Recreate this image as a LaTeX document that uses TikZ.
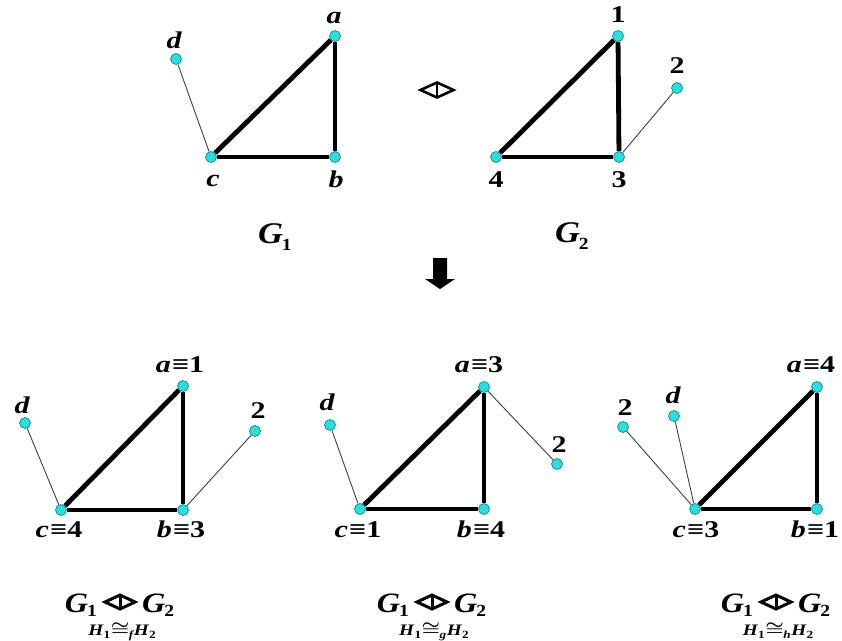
\documentclass[tikz,border=0pt]{standalone}
\usepackage{graphicx}
\usepackage{fontspec}
\setmainfont{Liberation Serif}
\definecolor{vfill}{RGB}{40,222,222}
\definecolor{vdraw}{RGB}{0,130,140}
\newcommand\hs[1]{\scalebox{1.25}[1]{#1}}
\newcommand\lbf{\fontsize{24}{24}\selectfont\bfseries}
\newcommand\GG[3]{\scalebox{1.15}[1]{{\fontsize{#3}{#3}\selectfont\bfseries\itshape G}\kern-1pt\raisebox{-#2pt}{\fontsize{17}{17}\selectfont\bfseries #1}}}
\newcommand\Hline[1]{\scalebox{1.2}[1]{\fontsize{16}{16}\selectfont\bfseries\itshape H\kern0.3pt\raisebox{-3pt}{\fontsize{11}{11}\selectfont\upshape 1}\kern0.5pt{\boldmath$\cong$}\kern-0.5pt\raisebox{-3.5pt}{\fontsize{11}{11}\selectfont #1}\kern0.5pt H\kern0.3pt\raisebox{-3pt}{\fontsize{11}{11}\selectfont\upshape 2}}}
\tikzset{
  vtx/.style={circle,minimum size=11pt,inner sep=0pt,fill=vfill,draw=vdraw,line width=0.6pt},
  thk/.style={line width=4.8pt,black},
  thn/.style={line width=0.9pt,black!75},
  lbl/.style={inner sep=0pt,anchor=base,font=\lbf},
  glbl/.style={inner sep=0pt},
  dsym/.style={line width=2.6pt,black,line join=miter}
}
\begin{document}
\begin{tikzpicture}[x=1pt,y=-1pt]
\fill[white] (0,0) rectangle (842,640);
\useasboundingbox (0,0) rectangle (842,640);

% ---------- top G1 ----------
\node[vtx] (ta) at (335,36) {};
\node[vtx] (tb) at (335,157) {};
\node[vtx] (tc) at (211,157) {};
\node[vtx] (td) at (176,59) {};
\draw[thn] (td) -- (tc);
\draw[thk] (tc) -- (ta);
\draw[thk] (ta) -- (tb);
\draw[thk] (tc) -- (tb);
\node[lbl] (lta) at (334,23) {\hs{\itshape a}};
\node[lbl] (ltd) at (174,48) {\hs{\itshape d}};
\node[lbl] (ltc) at (213,186) {\hs{\itshape c}};
\node[lbl] (ltb) at (336,187) {\hs{\itshape b}};
\node[glbl,anchor=base west] (G1top) at (258,243) {\GG{1}{7}{30}};

% symbol top
\coordinate (s0) at (437,90);
\draw[dsym] ([xshift=-16.5pt]s0) -- ([yshift=-7.5pt]s0) -- ([xshift=16.5pt]s0) -- ([yshift=7.5pt]s0) -- cycle;
\draw[dsym] ([yshift=-7.5pt]s0) -- ([yshift=7.5pt]s0);

% ---------- top G2 ----------
\node[vtx] (t1) at (618,36) {};
\node[vtx] (t3) at (619,157) {};
\node[vtx] (t4) at (496,157) {};
\node[vtx] (t2) at (677,88) {};
\draw[thn] (t3) -- (t2);
\draw[thk] (t4) -- (t1);
\draw[thk] (t1) -- (t3);
\draw[thk] (t4) -- (t3);
\node[lbl] (lt1) at (618,22) {\hs{1}};
\node[lbl] (lt2) at (677,73) {\hs{2}};
\node[lbl] (lt4) at (496,187) {\hs{4}};
\node[lbl] (lt3) at (619,187) {\hs{3}};
\node[glbl,anchor=base west] (G2top) at (555,242) {\GG{2}{7}{30}};

% arrow
\fill[black] (433,258) -- (447,258) -- (447,279) -- (455,279) -- (440,289) -- (425,279) -- (433,279) -- cycle;

% ---------- bottom left ----------
\node[vtx] (la) at (183,386) {};
\node[vtx] (lb) at (183,510) {};
\node[vtx] (lc) at (61,510) {};
\node[vtx] (ld) at (25,423) {};
\node[vtx] (l2) at (255,431) {};
\draw[thn] (ld) -- (lc);
\draw[thn] (lb) -- (l2);
\draw[thk] (lc) -- (la);
\draw[thk] (la) -- (lb);
\draw[thk] (lc) -- (lb);
\node[lbl] (lla) at (180,372) {\hs{\itshape a\kern1pt≡\upshape 1}};
\node[lbl] (lld) at (22,413) {\hs{\itshape d}};
\node[lbl] (ll2) at (258,418) {\hs{2}};
\node[lbl] (llc) at (59,537) {\hs{\itshape c\kern1pt≡\upshape 4}};
\node[lbl] (llb) at (181,537) {\hs{\itshape b\kern1pt≡\upshape 3}};

% ---------- bottom middle ----------
\node[vtx] (ma) at (484,387) {};
\node[vtx] (mb) at (484,509) {};
\node[vtx] (mc) at (360,509) {};
\node[vtx] (md) at (330,425) {};
\node[vtx] (m2) at (557,464) {};
\draw[thn] (md) -- (mc);
\draw[thn] (ma) -- (m2);
\draw[thk] (mc) -- (ma);
\draw[thk] (ma) -- (mb);
\draw[thk] (mc) -- (mb);
\node[lbl] (lma) at (479,372) {\hs{\itshape a\kern1pt≡\upshape 3}};
\node[lbl] (lmd) at (327,410) {\hs{\itshape d}};
\node[lbl] (lm2) at (559,452) {\hs{2}};
\node[lbl] (lmc) at (358,537) {\hs{\itshape c\kern1pt≡\upshape 1}};
\node[lbl] (lmb) at (481,537) {\hs{\itshape b\kern1pt≡\upshape 4}};

% ---------- bottom right ----------
\node[vtx] (ra) at (817,387) {};
\node[vtx] (rb) at (817,509) {};
\node[vtx] (rc) at (695,509) {};
\node[vtx] (rd) at (674,416) {};
\node[vtx] (r2) at (623,427) {};
\draw[thn] (rd) -- (rc);
\draw[thn] (r2) -- (rc);
\draw[thk] (rc) -- (ra);
\draw[thk] (ra) -- (rb);
\draw[thk] (rc) -- (rb);
\node[lbl] (lra) at (811,372) {\hs{\itshape a\kern1pt≡\upshape 4}};
\node[lbl] (lrd) at (673,403) {\hs{\itshape d}};
\node[lbl] (lr2) at (625,415) {\hs{2}};
\node[lbl] (lrc) at (696,537) {\hs{\itshape c\kern1pt≡\upshape 3}};
\node[lbl] (lrb) at (815,537) {\hs{\itshape b\kern1pt≡\upshape 1}};

% ---------- composite labels ----------
\foreach \X/\L/\n in {120/f/A, 432/g/B, 776/h/C}{
  \node[glbl,anchor=base east] (cg1\n) at (\X-23,612) {\GG{1}{4}{28}};
  \node[glbl,anchor=base west] (cg2\n) at (\X+22,612) {\GG{2}{4}{28}};
  \node[glbl,anchor=base] (ch\n) at (\X+2,635) {\Hline{\L}};
  \coordinate (cs\n) at (\X,602);
  \draw[dsym,line width=3pt] ([xshift=-15pt]cs\n) -- ([yshift=-7pt]cs\n) -- ([xshift=15pt]cs\n) -- ([yshift=7pt]cs\n) -- cycle;
  \draw[dsym,line width=3pt] ([yshift=-7pt]cs\n) -- ([yshift=7pt]cs\n);
}
\end{tikzpicture}
\end{document}
